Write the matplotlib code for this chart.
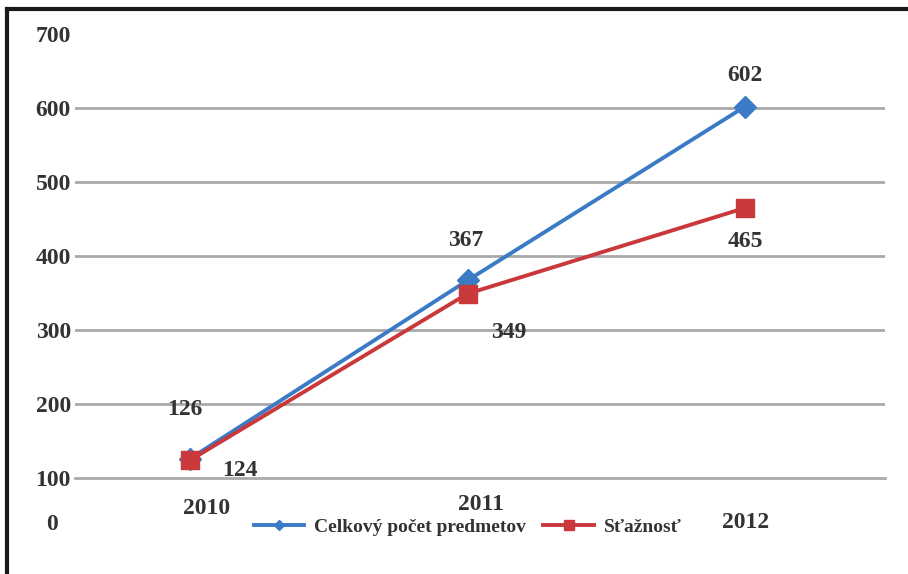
import matplotlib
matplotlib.use("Agg")
import matplotlib.pyplot as plt
from matplotlib.lines import Line2D

# Values per year
years = [2010, 2011, 2012]
celkovy = [126, 367, 602]
staznost = [124, 349, 465]
series_names = ["Celkový počet predmetov", "Sťažnosť"]
y_ticks = [100, 200, 300, 400, 500, 600, 700]

BLUE = "#3b7bc6"
RED = "#c9383a"
GRID = "#a9a9a9"
TEXT = "#333333"
NUM_SIZE = 17

plt.rcParams["font.family"] = ["Liberation Serif", "DejaVu Serif"]
plt.rcParams["font.weight"] = "bold"

fig = plt.figure(figsize=(9.08, 5.74), dpi=100)
ax = fig.add_axes([75 / 908, 1 - 478 / 574, 810 / 908, 444 / 574])

ax.set_xlim(2009.586, 2012.504)
ax.set_ylim(100, 700)

# horizontal grid, no line at the top value
for v in y_ticks[1:-1]:
    ax.axhline(v, color=GRID, lw=2, zorder=1)
for s in ["top", "right", "left"]:
    ax.spines[s].set_visible(False)
ax.spines["bottom"].set_color(GRID)
ax.spines["bottom"].set_linewidth(2)

ax.set_yticks(y_ticks)
ax.set_yticklabels([str(v) for v in y_ticks])
ax.tick_params(axis="y", length=0, pad=3, labelsize=NUM_SIZE, labelcolor=TEXT)
ax.set_xticks([])
# the zero label sits below the axis line
ax.annotate("0", (0, 100), xytext=(-23, -47), textcoords="offset pixels",
            xycoords=("axes fraction", "data"), ha="center", va="center",
            fontsize=NUM_SIZE, color=TEXT, annotation_clip=False)

ax.plot(years, celkovy, color=BLUE, lw=2.8, marker="D", ms=11, zorder=3)
ax.plot(years, staznost, color=RED, lw=2.8, marker="s", ms=13, zorder=4)

# year labels, staggered below the axis
year_offsets = [(17, -30), (13, -26), (0, -45)]
for yr, (dx, dy) in zip(years, year_offsets):
    ax.annotate(str(yr), (yr, 100), xytext=(dx, dy), textcoords="offset pixels",
                ha="center", va="center", fontsize=NUM_SIZE, color=TEXT,
                annotation_clip=False)

blue_offsets = [(-5, 49), (-2, 40), (0, 31)]
red_offsets = [(50, -10), (41, -39), (0, -34)]
for x, v, (dx, dy) in zip(years, celkovy, blue_offsets):
    ax.annotate(str(v), (x, v), xytext=(dx, dy), textcoords="offset pixels",
                ha="center", va="center", fontsize=NUM_SIZE, color=TEXT)
for x, v, (dx, dy) in zip(years, staznost, red_offsets):
    ax.annotate(str(v), (x, v), xytext=(dx, dy), textcoords="offset pixels",
                ha="center", va="center", fontsize=NUM_SIZE, color=TEXT)

handles = [
    Line2D([], [], color=BLUE, lw=2.8, marker="D", ms=5),
    Line2D([], [], color=RED, lw=2.8, marker="s", ms=7),
]
fig.legend(handles, series_names, loc="center", bbox_to_anchor=(0.515, 1 - 527 / 574),
           ncol=2, frameon=False, fontsize=14, handlelength=2.6,
           handletextpad=0.5, columnspacing=0.9, labelcolor=TEXT)

# frame lines on top and left of the figure
fig.add_artist(Line2D([7 / 908, 7 / 908], [0, 1 - 9 / 574], color="#1a1a1a", lw=3))
fig.add_artist(Line2D([7 / 908, 1], [1 - 9 / 574, 1 - 9 / 574], color="#1a1a1a", lw=3))

fig.savefig("out.png", dpi=100)
